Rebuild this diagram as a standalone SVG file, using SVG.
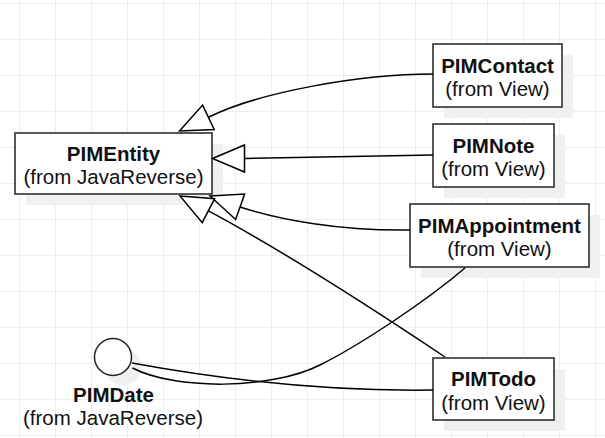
<svg xmlns="http://www.w3.org/2000/svg" width="605" height="438" viewBox="0 0 605 438">
<defs>
<pattern id="grid" width="36" height="36" patternUnits="userSpaceOnUse" x="19" y="3">
<path d="M0,0.5 H36 M0.5,0 V36" fill="none" stroke="#eeeeee" stroke-width="1"/>
</pattern>
<path id="tri" d="M0,0 L32,-13.5 L32,13.5 Z"/>
</defs>
<style>
.box{fill:#fff;stroke:#222;stroke-width:1.5}
.shadow{fill:#f0f0f0}
.edge{fill:none;stroke:#000;stroke-width:1.5}
.head{fill:#fff;stroke:#000;stroke-width:1.5;stroke-linejoin:miter}
text{font-family:"Liberation Sans",Arial,sans-serif;font-size:20.5px;text-anchor:middle;fill:#111}
.b{font-weight:bold}
</style>
<rect width="605" height="438" fill="#fff"/>
<rect width="605" height="438" fill="url(#grid)"/>

<g id="PIMEntity">
<rect class="shadow" x="26" y="144" width="197" height="61"/>
<rect class="box" x="15" y="133" width="197" height="61"/>
<text class="b" x="113.5" y="160.5">PIMEntity</text>
<text x="113.5" y="184">(from JavaReverse)</text>
</g>
<g id="PIMContact">
<rect class="shadow" x="444" y="55" width="129" height="63"/>
<rect class="box" x="433" y="44" width="129" height="63"/>
<text class="b" x="497.5" y="72.5">PIMContact</text>
<text x="497.5" y="96">(from View)</text>
</g>
<g id="PIMNote">
<rect class="shadow" x="444" y="135" width="121" height="63"/>
<rect class="box" x="433" y="124" width="121" height="63"/>
<text class="b" x="493.5" y="152.5">PIMNote</text>
<text x="493.5" y="176">(from View)</text>
</g>
<g id="PIMAppointment">
<rect class="shadow" x="421" y="215" width="179" height="63"/>
<rect class="box" x="410" y="204" width="179" height="63"/>
<text class="b" x="499.5" y="232.5">PIMAppointment</text>
<text x="499.5" y="256">(from View)</text>
</g>
<g id="PIMTodo">
<rect class="shadow" x="444" y="369" width="121" height="62"/>
<rect class="box" x="433" y="358" width="121" height="62"/>
<text class="b" x="493.5" y="386">PIMTodo</text>
<text x="493.5" y="409.5">(from View)</text>
</g>
<g id="PIMDate">
<circle class="shadow" cx="123" cy="367" r="18.5"/>
<circle class="box" cx="113" cy="357" r="18.5"/>
<text class="b" x="113.5" y="402">PIMDate</text>
<text x="113" y="425">(from JavaReverse)</text>
</g>

<g id="connectors">
<path class="edge" d="M433,74 C360,74 260,92 209,117"/>
<use href="#tri" class="head" transform="translate(179.5,131) rotate(-25.4)"/>
<path class="edge" d="M433,155 L244.5,158.5"/>
<use href="#tri" class="head" transform="translate(212.5,158.5)"/>
<path class="edge" d="M410,230 C340,231 280,220 240,207"/>
<use href="#tri" class="head" transform="translate(210,196) rotate(19.6)"/>
<path class="edge" d="M445,357 Q300,260 208,210.6"/>
<use href="#tri" class="head" transform="translate(180,196) rotate(27.3)"/>
<path class="edge" d="M132,363 Q290,392 433,390"/>
<path class="edge" d="M132.5,368 C175,390 270,390 320,365 C360,345 425,302 465,268"/>
</g>
</svg>
